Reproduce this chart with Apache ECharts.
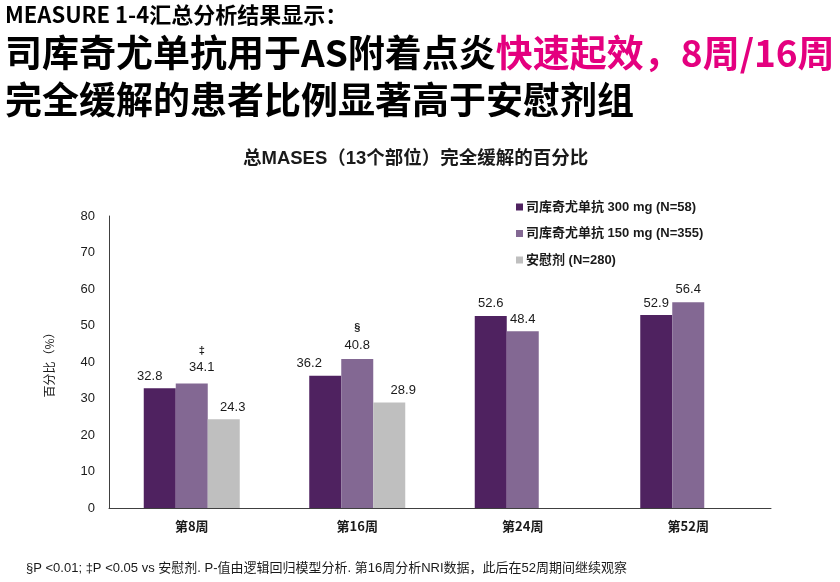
<!DOCTYPE html>
<html><head><meta charset="utf-8">
<script src="https://cdn.jsdelivr.net/npm/echarts@6/dist/echarts.min.js"></script>
<style>html,body{margin:0;padding:0;background:#fff}#c{width:840px;height:582px}</style>
</head><body><div id="c"></div>
<script>
var categories = ['第8周', '第16周', '第24周', '第52周'];
var seriesNames = ['司库奇尤单抗 300 mg (N=58)', '司库奇尤单抗 150 mg (N=355)', '安慰剂 (N=280)'];
var dose300 = [32.8, 36.2, 52.6, 52.9];
var dose150 = [34.1, 40.8, 48.4, 56.4];
var placebo = [24.3, 28.9, null, null];
var marks150 = ['‡', '§', '', ''];
var yTicks = {min: 0, max: 80, interval: 10};

var colors = ['#4f2260', '#836893', '#bfbfbf'];
var labelOffsets = [
  [[-10, 0], [-16, -1], [0, -1], [0, 0]],
  [[10, -3], [0, -1], [0, 0], [0, -1]],
  [[9, 0], [14, -1], [0, 0], [0, 0]]
];
var sans = '"Liberation Sans", Arial, "Noto Sans CJK SC", sans-serif';
var cjk = '"Noto Sans CJK SC", sans-serif';

function buildData(vals, si, marks) {
  return vals.map(function (v, i) {
    if (v == null) return null;
    var item = {value: v, label: {offset: labelOffsets[si][i]}};
    if (marks && marks[i]) {
      item.label.formatter = '{m|' + marks[i] + '}\n{v|' + v.toFixed(1) + '}';
    }
    return item;
  });
}

var lists = [dose300, dose150, placebo];
var series = lists.map(function (vals, si) {
  return {
    name: seriesNames[si],
    type: 'bar',
    barWidth: 32,
    barGap: '0%',
    itemStyle: {color: colors[si]},
    label: {
      show: true, position: 'top', distance: 5,
      color: '#1a1a1a', fontSize: 13, fontFamily: sans,
      formatter: function (p) { return p.value.toFixed(1); },
      rich: {
        m: {fontSize: 11, fontWeight: 'bold', fontFamily: sans, color: '#1a1a1a', lineHeight: 18},
        v: {fontSize: 13, fontFamily: sans, color: '#1a1a1a', lineHeight: 16}
      }
    },
    data: buildData(vals, si, si === 1 ? marks150 : null)
  };
});

var chart = echarts.init(document.getElementById('c'), null, {renderer: 'canvas'});
chart.setOption({
  animation: false,
  backgroundColor: '#fff',
  title: [
    {text: 'MEASURE 1-4汇总分析结果显示：', left: 0, top: -1,
     textStyle: {fontSize: 22, fontWeight: 'bold', fontFamily: cjk, color: '#000'}},
    {text: '{a|司库奇尤单抗用于AS附着点炎}{b|快速起效，8周/16周}', left: 0, top: 29,
     textStyle: {rich: {
       a: {fontSize: 37, fontWeight: 'bold', fontFamily: cjk, color: '#000'},
       b: {fontSize: 37, fontWeight: 'bold', fontFamily: cjk, color: '#e4007f'}}}},
    {text: '完全缓解的患者比例显著高于安慰剂组', left: 0, top: 76,
     textStyle: {fontSize: 37, fontWeight: 'bold', fontFamily: cjk, color: '#000'}},
    {text: '总MASES（13个部位）完全缓解的百分比', left: 238, top: 145,
     textStyle: {fontSize: 18.5, fontWeight: 'bold', fontFamily: sans, color: '#1a1a1a'}},
    {text: '§P <0.01; ‡P <0.05 vs 安慰剂. P-值由逻辑回归模型分析. 第16周分析NRI数据，此后在52周期间继续观察',
     left: 21, top: 557,
     textStyle: {fontSize: 13, fontWeight: 'normal', fontFamily: sans, color: '#1a1a1a'}}
  ],
  legend: {
    orient: 'vertical', left: 511, top: 194,
    itemWidth: 7, itemHeight: 7, itemGap: 10.5, icon: 'rect',
    textStyle: {fontSize: 13, fontWeight: 'bold', fontFamily: sans, color: '#1a1a1a', padding: [0, 0, 0, -2], lineHeight: 16},
    data: seriesNames
  },
  grid: {left: 109, right: 69, top: 216, bottom: 74, containLabel: false},
  xAxis: {
    type: 'category', data: categories,
    axisLine: {lineStyle: {color: '#404040', width: 1}},
    axisTick: {show: false},
    axisLabel: {fontSize: 13, fontWeight: 'bold', fontFamily: cjk, color: '#1a1a1a', margin: 12}
  },
  yAxis: {
    type: 'value', min: yTicks.min, max: yTicks.max, interval: yTicks.interval,
    name: '百分比（%）', nameLocation: 'middle', nameGap: 54, nameRotate: 90,
    nameTextStyle: {fontSize: 12, fontFamily: cjk, color: '#1a1a1a'},
    axisLine: {show: true, lineStyle: {color: '#404040', width: 1}},
    axisTick: {show: false},
    splitLine: {show: false},
    axisLabel: {fontSize: 13, fontFamily: sans, color: '#1a1a1a', margin: 14}
  },
  series: series
});
</script>
</body></html>
